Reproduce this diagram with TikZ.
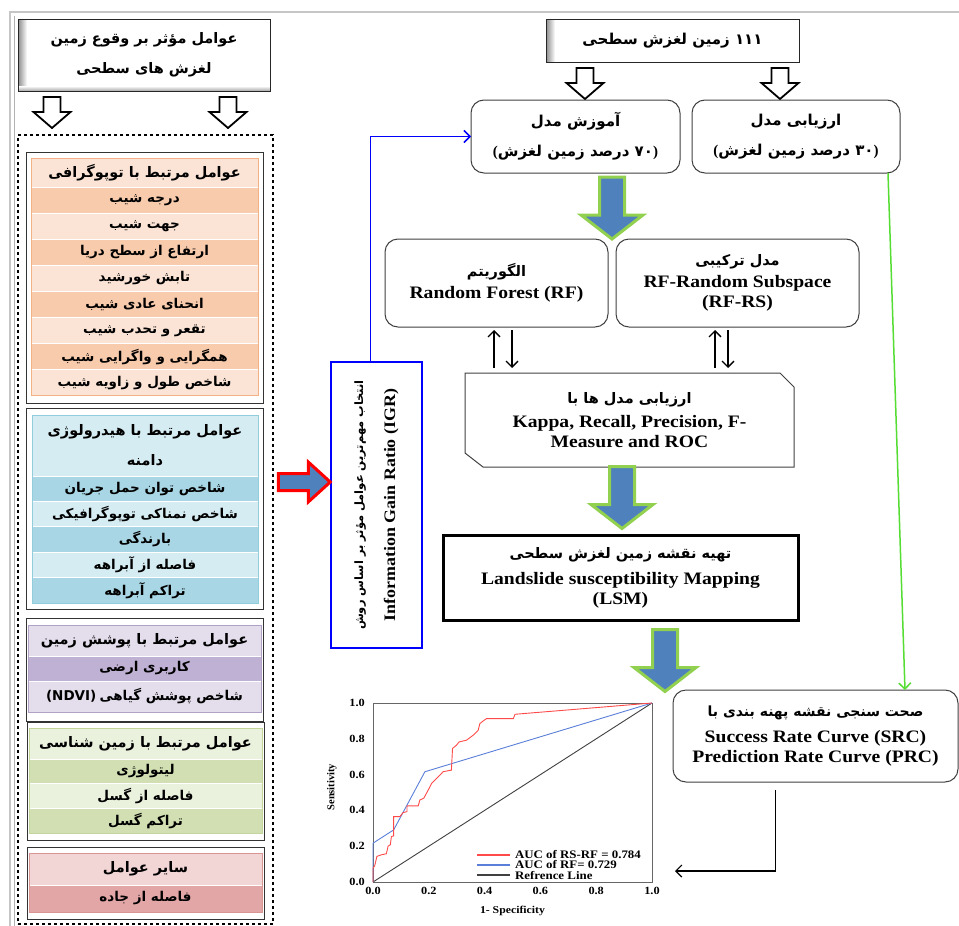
\documentclass[tikz,border=0pt]{standalone}
\usepackage{fontspec}
\setmainfont{Liberation Serif}
\newfontfamily\farsifont[Script=Arabic]{DejaVu Sans}
\newfontfamily\enfont[FakeStretch=1.12]{Liberation Serif}
\TeXXeTstate=1
\usetikzlibrary{arrows.meta,positioning,calc}

\definecolor{topohead}{HTML}{FBE4D5}
\definecolor{topodark}{HTML}{F8CBAD}
\definecolor{topoline}{HTML}{F4B183}
\definecolor{hydrohead}{HTML}{D6ECF3}
\definecolor{hydrodark}{HTML}{A9D6E4}
\definecolor{hydroline}{HTML}{92CDDC}
\definecolor{landhead}{HTML}{E4DEEC}
\definecolor{landdark}{HTML}{BFB1D3}
\definecolor{landline}{HTML}{B2A1C7}
\definecolor{geohead}{HTML}{EAF1DD}
\definecolor{geodark}{HTML}{D1DFB2}
\definecolor{geoline}{HTML}{C2D69B}
\definecolor{otherhead}{HTML}{F2D5D5}
\definecolor{otherdark}{HTML}{E3A6A6}
\definecolor{otherline}{HTML}{D99594}
\definecolor{arrblue}{HTML}{4F81BD}
\definecolor{arrgreen}{HTML}{92D050}
\definecolor{linkgreen}{HTML}{55DD33}
\definecolor{rocred}{HTML}{FF4A4A}
\definecolor{rocblue}{HTML}{5A7FD8}

\newcommand\fatxt[1]{{\farsifont\bfseries\beginR #1\endR}}
\newcommand\entxt[1]{{\fontsize{17.5}{20}\selectfont\enfont\bfseries #1}}

\tikzset{
  hdrbox/.style={draw=black!85, line width=1pt, fill=white, inner sep=0pt, outer sep=0pt, align=center},
  modbox/.style={draw=black!75, line width=1pt, rounded corners=13pt, fill=white, inner sep=0pt, outer sep=0pt, align=center},
  grpbox/.style={draw=black!80, line width=1pt, inner sep=0pt, outer sep=0pt},
  tabcell/.style={draw=white, line width=1pt, minimum width=227pt, inner sep=0pt, outer sep=0pt, align=center, font=\fontsize{13.5}{16}\selectfont},
  tabhead/.style={tabcell, font=\fontsize{14.5}{18}\selectfont},
  ticklbl/.style={font=\fontsize{11}{12}\selectfont\enfont\bfseries, inner sep=1pt},
  hollowdn/.pic={\draw[line width=1.8pt, fill=white] (-8.5,0) -- (8.5,0) -- (8.5,15) -- (18.5,15) -- (0,31) -- (-18.5,15) -- (-8.5,15) -- cycle;},
  blockdn/.pic={\draw[line width=3pt, draw=arrgreen, fill=arrblue] (-12.5,-62) -- (12.5,-62) -- (12.5,-24) -- (31,-24) -- (0,0) -- (-31,-24) -- (-12.5,-24) -- cycle;},
  blockrt/.pic={\draw[line width=3pt, draw=red, fill=arrblue] (0,0) -- (-22,-20) -- (-22,-8.5) -- (-52,-8.5) -- (-52,8.5) -- (-22,8.5) -- (-22,20) -- cycle;},
}

\begin{document}
\begin{tikzpicture}[x=1pt, y=-1pt, >={Straight Barb[length=6pt,width=12pt]}]
\useasboundingbox (0,0) rectangle (959,926);

% page frame
\draw[gray!45, line width=2pt] (10,926) -- (10,12) -- (959,12);
\draw[gray!60, line width=1pt] (14,926) -- (14,16);

% Factors (left column)
\node[hdrbox, minimum width=252pt, minimum height=72pt, font=\fontsize{14.5}{18}\selectfont] (factors) at (144,55)
  {\fatxt{عوامل مؤثر بر وقوع زمین}\\[12pt]\fatxt{لغزش های سطحی}};
\shade[left color=black!45, right color=white] (factors.north west) rectangle ($(factors.south west)+(9,0)$);
\shade[top color=white, bottom color=black!35] ($(factors.south west)+(0,-5)$) rectangle (factors.south east);
\draw[black!85, line width=1pt] (factors.north west) rectangle (factors.south east);
\pic at ($(factors.south west)+(34,6)$) {hollowdn};
\pic at ($(factors.south east)+(-42,6)$) {hollowdn};

\node[draw, dashed, line width=1.5pt, minimum width=255pt, minimum height=789pt, inner sep=0pt] (allfac) at (145.5,529.5) {};

% topography
\node[grpbox, minimum width=237pt, minimum height=251pt] (topogrp) at (144.5,277.5) {};
\node[tabhead, fill=topohead, minimum height=29pt] (topohd) at (144.5,172.5) {\fatxt{عوامل مرتبط با توپوگرافی}};
\foreach \txt [count=\i] in {درجه شیب, جهت شیب, ارتفاع از سطح دریا, تابش خورشید, انحنای عادی شیب, تقعر و تحدب شیب, همگرایی و واگرایی شیب, شاخص طول و زاویه شیب}{
  \ifodd\i \def\rowcol{topodark}\else\def\rowcol{topohead}\fi
  \node[tabcell, fill=\rowcol, minimum height=26.1pt] (topo\i) at ({144.5},{187+26.1*(\i-0.5)}) {\fatxt{\txt}};
}
\draw[topoline, line width=1pt] (topohd.north west) rectangle (topo8.south east);

% hydrology
\node[grpbox, minimum width=237pt, minimum height=201pt] (hydrogrp) at (144.5,508.5) {};
\node[tabhead, fill=hydrohead, minimum width=226pt, minimum height=61pt] (hydrohd) at (145,445.5)
  {\fatxt{عوامل مرتبط با هیدرولوژی}\\[12pt]\fatxt{دامنه}};
\foreach \txt [count=\i] in {شاخص توان حمل جریان, شاخص نمناکی توپوگرافیکی, بارندگی, فاصله از آبراهه, تراکم آبراهه}{
  \ifodd\i \def\rowcol{hydrodark}\else\def\rowcol{hydrohead}\fi
  \node[tabcell, fill=\rowcol, minimum width=226pt, minimum height=25.4pt] (hydro\i) at ({145},{476+25.4*(\i-0.5)}) {\fatxt{\txt}};
}
\draw[hydroline, line width=1pt] (hydrohd.north west) rectangle (hydro5.south east);

% land cover
\node[grpbox, minimum width=237pt, minimum height=103pt] (landgrp) at (144.5,669.5) {};
\node[tabhead, fill=landhead, minimum width=233pt, minimum height=31pt] (landhd) at (144.5,640.5) {\fatxt{عوامل مرتبط با پوشش زمین}};
\node[tabcell, fill=landdark, minimum width=233pt, minimum height=25pt] (land1) at (144.5,668.5) {\fatxt{کاربری ارضی}};
\node[tabcell, fill=landhead, minimum width=233pt, minimum height=31pt] (land2) at (144.5,696.5)
  {{\farsifont\bfseries(NDVI)} \fatxt{شاخص پوشش گیاهی}};
\draw[landline, line width=1pt] (landhd.north west) rectangle (land2.south east);

% geology
\node[grpbox, minimum width=237pt, minimum height=118pt] (geogrp) at (145.5,781) {};
\node[tabhead, fill=geohead, minimum width=233pt, minimum height=31pt] (geohd) at (145.5,743.5) {\fatxt{عوامل مرتبط با زمین شناسی}};
\foreach \txt [count=\i] in {لیتولوژی, فاصله از گسل, تراکم گسل}{
  \ifodd\i \def\rowcol{geodark}\else\def\rowcol{geohead}\fi
  \node[tabcell, fill=\rowcol, minimum width=233pt, minimum height=24.7pt] (geo\i) at ({145.5},{759+24.7*(\i-0.5)}) {\fatxt{\txt}};
}
\draw[geoline, line width=1pt] (geohd.north west) rectangle (geo3.south east);

% other factors
\node[grpbox, minimum width=237pt, minimum height=72pt] (othergrp) at (145.5,883) {};
\node[tabhead, fill=otherhead, minimum width=233pt, minimum height=32pt] (otherhd) at (145.5,869) {\fatxt{سایر عوامل}};
\node[tabcell, fill=otherdark, minimum width=233pt, minimum height=27pt] (other1) at (145.5,898.5) {\fatxt{فاصله از جاده}};
\draw[otherline, line width=1pt] (otherhd.north west) rectangle (other1.south east);

% IGR selection
\node[draw=blue, line width=1.5pt, minimum width=91pt, minimum height=286pt, inner sep=0pt] (igr) at (376.5,505) {};
\node[rotate=90, align=center, font=\fontsize{11.5}{22}\selectfont] (igrtxt) at (igr.center)
  {\fatxt{انتخاب مهم‌ترین عوامل مؤثر بر اساس روش}\\[10pt]\entxt{\fontsize{16}{18}\selectfont Information Gain Ratio (IGR)}};
\pic at ($(igr.west)+(0,-23)$) {blockrt};

% Right column
\node[hdrbox, minimum width=253pt, minimum height=43pt, font=\fontsize{15}{18}\selectfont] (landslides) at (672.5,40.5) {\fatxt{۱۱۱ زمین لغزش سطحی}};
\shade[left color=black!45, right color=white] (landslides.north west) rectangle ($(landslides.south west)+(9,0)$);
\draw[black!85, line width=1pt] (landslides.north west) rectangle (landslides.south east);
\pic at ($(landslides.south west)+(39,6)$) {hollowdn};
\pic at ($(landslides.south east)+(-19,6)$) {hollowdn};

\node[modbox, minimum width=209pt, minimum height=73pt, font=\fontsize{15}{18}\selectfont] (train) at (575.5,136.5)
  {\fatxt{آموزش مدل}\\[12pt]{\bfseries(}\fatxt{۷۰ درصد زمین لغزش}{\bfseries)}};
\node[modbox, minimum width=208pt, minimum height=73pt, font=\fontsize{15}{18}\selectfont] (evalmod) at (796,136.5)
  {\fatxt{ارزیابی مدل}\\[12pt]{\bfseries(}\fatxt{۳۰ درصد زمین لغزش}{\bfseries)}};

\node[modbox, minimum width=223pt, minimum height=88pt, font=\fontsize{14.5}{20}\selectfont] (rf) at (496.5,283)
  {\fatxt{الگوریتم}\\[2pt]\entxt{Random Forest (RF)}};
\node[modbox, minimum width=243pt, minimum height=88pt, font=\fontsize{14.5}{20}\selectfont] (rs) at (737.5,283)
  {\fatxt{مدل ترکیبی}\\[2pt]\entxt{RF-Random Subspace}\\\entxt{(RF-RS)}};
\pic at ($(rf.north east)!0.5!(rs.north west)$) {blockdn};

\node[minimum width=329pt, minimum height=94pt, inner sep=0pt, outer sep=0pt, align=center, font=\fontsize{14.5}{20}\selectfont] (evalbox) at (629.5,420)
  {\fatxt{ارزیابی مدل ها با}\\[4pt]\entxt{Kappa, Recall, Precision, F-}\\\entxt{Measure and ROC}};
\draw[black!75, line width=1pt] (evalbox.north west) -- ($(evalbox.north east)+(-14,0)$) -- ($(evalbox.north east)+(0,14)$)
  -- (evalbox.south east) -- ($(evalbox.south west)+(18,0)$) -- ($(evalbox.south west)+(0,-14)$) -- cycle;

% model <-> evaluation
\draw[->, line width=1.3pt] ($(rf.south |- evalbox.north)+(-2.5,-5)$) -- ($(rf.south)+(-2.5,3)$);
\draw[->, line width=1.3pt] ($(rf.south)+(15.5,3)$) -- ($(rf.south |- evalbox.north)+(15.5,-5)$);
\draw[->, line width=1.3pt] ($(rs.south |- evalbox.north)+(-22.5,-5)$) -- ($(rs.south)+(-22.5,3)$);
\draw[->, line width=1.3pt] ($(rs.south)+(-9.5,3)$) -- ($(rs.south |- evalbox.north)+(-9.5,-5)$);

\node[draw, line width=3pt, minimum width=355pt, minimum height=85pt, inner sep=0pt, align=center, font=\fontsize{14.5}{20}\selectfont] (lsm) at (620.5,577.5)
  {\fatxt{تهیه نقشه زمین لغزش سطحی}\\[6pt]\entxt{Landslide susceptibility Mapping}\\\entxt{(LSM)}};
\pic at ($(lsm.north)+(1.5,-5)$) {blockdn};
\pic at ($(lsm.south)+(44.5,70)$) {blockdn};

\node[modbox, minimum width=285pt, minimum height=92pt, font=\fontsize{14}{20}\selectfont] (src) at (815.5,736)
  {\fatxt{صحت سنجی نقشه پهنه بندی با}\\[6pt]\entxt{Success Rate Curve (SRC)}\\\entxt{Prediction Rate Curve (PRC)}};

% connectors
\draw[->, blue, line width=1.5pt] ($(igr.north)+(-6,0)$) |- (train.west);
\draw[->, linkgreen, line width=1.5pt] ($(evalmod.south east)+(-12,0)$) -- ($(src.north east)+(-53,0)$);
\coordinate (rocin) at (675,871);
\draw[->, line width=1.2pt] ($(src.south)+(-40,8)$) |- (rocin);

% ROC plot
\begin{scope}[shift={(373,882)}, x=279pt, y=179pt]
  \node[draw=black!60, line width=0.6pt, minimum width=279pt, minimum height=179pt, inner sep=0pt, outer sep=0pt, anchor=south west] (rocframe) at (0,0) {};
  \draw[black!75, line width=0.9pt] (0,0) -- (1,1);
  \draw[rocblue, line width=0.9pt] plot coordinates {(0,0) (0,0.217) (0.074,0.291) (0.186,0.616) (1,1)};
  \draw[rocred, line width=0.9pt] plot coordinates {(0,0) (0,0.078) (0.006,0.09) (0.014,0.143) (0.03,0.152) (0.048,0.158)
    (0.054,0.2) (0.062,0.208) (0.066,0.254) (0.074,0.258) (0.074,0.365) (0.096,0.365) (0.108,0.388) (0.122,0.393)
    (0.122,0.425) (0.162,0.425) (0.168,0.458) (0.182,0.468) (0.198,0.514) (0.21,0.551) (0.222,0.57) (0.24,0.597)
    (0.251,0.616) (0.281,0.625) (0.285,0.746) (0.299,0.764) (0.309,0.783) (0.335,0.792) (0.359,0.82) (0.377,0.848)
    (0.383,0.885) (0.395,0.9) (0.407,0.913) (0.503,0.913) (0.509,0.937) (1,1)};
  \foreach \t [count=\i] in {0.0,0.2,0.4,0.6,0.8,1.0}{
    \node[ticklbl, anchor=east] (yt\i) at ({-0.025},{(\i-1)*0.2}) {\t};
    \node[ticklbl, anchor=north] (xt\i) at ({(\i-1)*0.2},{-0.02}) {\t};
  }
  \node[rotate=90, font=\fontsize{10.5}{12}\selectfont\bfseries] (sens) at (-0.147,0.53) {Sensitivity};
  \node[font=\fontsize{10.5}{12}\selectfont\enfont\bfseries] (spec) at (0.5,-0.162) {1- Specificity};
  % legend
  \draw[rocred, line width=1.2pt] (0.373,0.151) -- (0.49,0.151);
  \draw[rocblue, line width=1.2pt] (0.373,0.095) -- (0.49,0.095);
  \draw[black!75, line width=1.2pt] (0.373,0.039) -- (0.49,0.039);
  \node[ticklbl, anchor=west, font=\fontsize{11.5}{12}\selectfont\enfont\bfseries] (leg1) at (0.505,0.151) {AUC of RS-RF = 0.784};
  \node[ticklbl, anchor=west, font=\fontsize{11.5}{12}\selectfont\enfont\bfseries] (leg2) at (0.505,0.095) {AUC of RF= 0.729};
  \node[ticklbl, anchor=west, font=\fontsize{11.5}{12}\selectfont\enfont\bfseries] (leg3) at (0.505,0.039) {Refrence Line};
\end{scope}
\end{tikzpicture}
\end{document}
